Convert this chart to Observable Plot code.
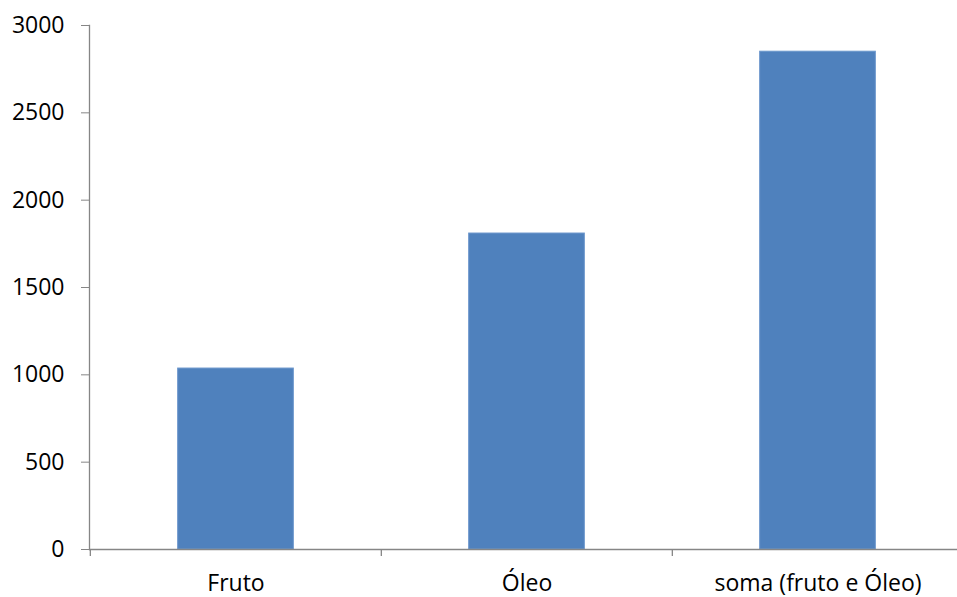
<!DOCTYPE html>
<html><head><meta charset="utf-8">
<script src="https://cdn.jsdelivr.net/npm/d3@7"></script>
<script src="https://cdn.jsdelivr.net/npm/@observablehq/plot@0.6"></script>
<style>
html,body{margin:0;padding:0;background:#fff;overflow:hidden;}
</style></head>
<body><div id="chart"></div>
<script>
const categories = ["Fruto", "Óleo", "soma (fruto e Óleo)"];
const values = [1036, 1809, 2850];
const yTicks = [0, 500, 1000, 1500, 2000, 2500, 3000];

const data = categories.map((c, i) => ({cat: c, value: values[i]}));
const W = 957, H = 597, mL = 89, mT = 25, mB = 48;
const xRight = 963;
const step = (xRight - mL) / categories.length;
const barW = 116;
const inset = (step - barW) / 2;

const chart = Plot.plot({
  width: W, height: H,
  marginLeft: mL, marginRight: 0, marginTop: mT, marginBottom: mB,
  style: {fontFamily: "'Open Sans', sans-serif", fontSize: "23px", color: "#000", background: "#fff"},
  x: {domain: categories, range: [mL, xRight], padding: 0, label: null},
  y: {domain: [0, 3000], label: null},
  marks: [
    Plot.barY(data, {x: "cat", y: "value", fill: "#4f81bd", stroke: "#6c97cc", strokeWidth: 1, insetLeft: inset, insetRight: inset}),
    Plot.ruleY([0], {stroke: "#868686", strokeWidth: 1.3}),
    Plot.ruleX(categories, {x: d => d, dx: -step / 2, y1: 0, y2: 0, insetBottom: -7, stroke: "#868686", strokeWidth: 1.3}),
    Plot.frame({anchor: "left", stroke: "#868686", strokeWidth: 1.3}),
    Plot.axisY({ticks: yTicks, tickSize: 8, tickPadding: 17, tickFormat: d => String(d), stroke: "#868686", fill: "#000", label: null}),
    Plot.axisX({tickSize: 0, tickPadding: 25, fill: "#000", label: null})
  ]
});
document.getElementById("chart").appendChild(chart);
</script>
</body></html>
